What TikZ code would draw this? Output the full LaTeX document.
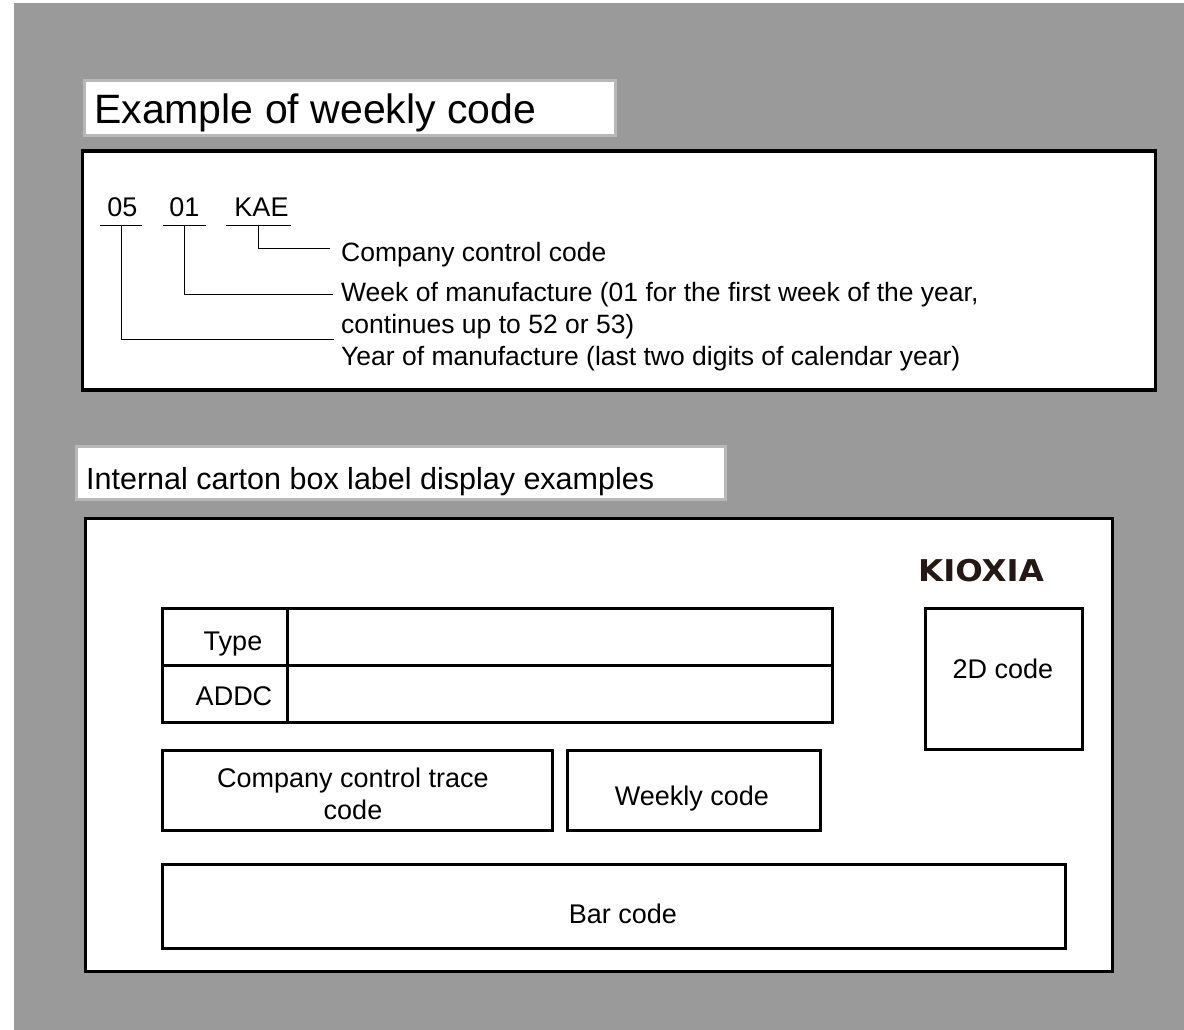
\documentclass[tikz,border=0pt]{standalone}
\usepackage{fontspec}
\setmainfont{Liberation Sans}
\definecolor{panelgray}{HTML}{9A9A9A}
\definecolor{titleedge}{HTML}{B8B8B8}
\definecolor{logoink}{HTML}{231815}
\newfontfamily\logofont[FakeStretch=1.08]{DejaVu Sans Bold}
\tikzset{
    txt/.style={inner sep=0pt, anchor=base, font=\fontsize{27}{32}\selectfont},
    side/.style={inner sep=0pt, anchor=base west, font=\fontsize{26.5}{32}\selectfont},
    digit/.style={txt, minimum width=#1, text height=19pt, text depth=9pt},
    titlebox/.style={draw=titleedge, line width=3pt, fill=white, anchor=north west, inner sep=0pt, outer sep=0pt},
    panel/.style={draw=black, fill=white, anchor=north west, inner sep=0pt, outer sep=0pt},
    cell/.style={panel, line width=3pt},
    lead/.style={line width=1pt}
}
\begin{document}
\begin{tikzpicture}[x=1pt, y=-1pt]
    \useasboundingbox (0,0) rectangle (1184,1030);
    \fill[panelgray] (14,3) rectangle (1184,1030);

    % weekly code
    \node[titlebox, minimum width=531, minimum height=55] (title1) at (84.5,80.5) {};
    \node[inner sep=0pt, anchor=base west, font=\fontsize{41}{48}\selectfont] (title1text) at (94,124) {Example of weekly code};
    \node[panel, line width=3.5pt, minimum width=1073, minimum height=239] (code) at (82.5,151) {};
    \node[digit=42] (yy) at (121,216) {\hspace*{3pt}05};
    \node[digit=43] (ww) at (184.5,216) {01};
    \node[digit=65] (kae) at (258.5,216) {\hspace*{6pt}KAE};
    \node[side] (company) at (341,261) {Company control code};
    \node[side] (week) at (341,301) {Week of manufacture (01 for the first week of the year,};
    \node[side] (cont) at ([yshift=-32pt]week.base west) {continues up to 52 or 53)};
    \node[side] (year) at ([yshift=-32pt]cont.base west) {Year of manufacture (last two digits of calendar year)};
    \coordinate (companyend) at (330,248);
    \coordinate (weekend) at (333,294);
    \coordinate (yearend) at (334,339);
    \draw[lead] (yy.south west) -- (yy.south east);
    \draw[lead] (ww.south west) -- (ww.south east);
    \draw[lead] (kae.south west) -- (kae.south east);
    \draw[lead] (kae.south) |- (companyend);
    \draw[lead] (ww.south) |- (weekend);
    \draw[lead] (yy.south) |- (yearend);

    % carton label
    \node[titlebox, minimum width=649, minimum height=53] (title2) at (76.5,446.5) {};
    \node[inner sep=0pt, anchor=base west, font=\fontsize{30.5}{36}\selectfont] (title2text) at (86,489) {Internal carton box label display examples};
    \node[panel, line width=3pt, minimum width=1027, minimum height=453] (label) at (85,518) {};
    \node[inner sep=0pt, text=logoink, font=\logofont\fontsize{30}{32}\selectfont] (logo) at (981,571) {KIOXIA};
    \node[cell, minimum width=125, minimum height=57] (typecell) at (162,608) {};
    \node[cell, minimum width=545, minimum height=57] (typeval) at (287,608) {};
    \node[cell, minimum width=125, minimum height=57] (addccell) at (162,665) {};
    \node[cell, minimum width=545, minimum height=57] (addcval) at (287,665) {};
    \node[txt] (typetext) at (233,650) {Type};
    \node[txt] (addctext) at (234,705) {ADDC};
    \node[cell, minimum width=157, minimum height=141] (qr) at (925,608) {};
    \node[txt] (qrtext) at (1003,678) {2D code};
    \node[cell, minimum width=389.5, minimum height=80.5] (trace) at (162.5,750) {};
    \node[txt, anchor=center, align=center] (tracetext) at (353,794) {Company control trace\\code};
    \node[cell, minimum width=253.5, minimum height=80.5] (weekly) at (567,750) {};
    \node[txt] (weeklytext) at (692,805) {Weekly code};
    \node[cell, minimum width=903, minimum height=84] (bar) at (162.5,864) {};
    \node[txt] (bartext) at (623,923) {Bar code};
\end{tikzpicture}
\end{document}
